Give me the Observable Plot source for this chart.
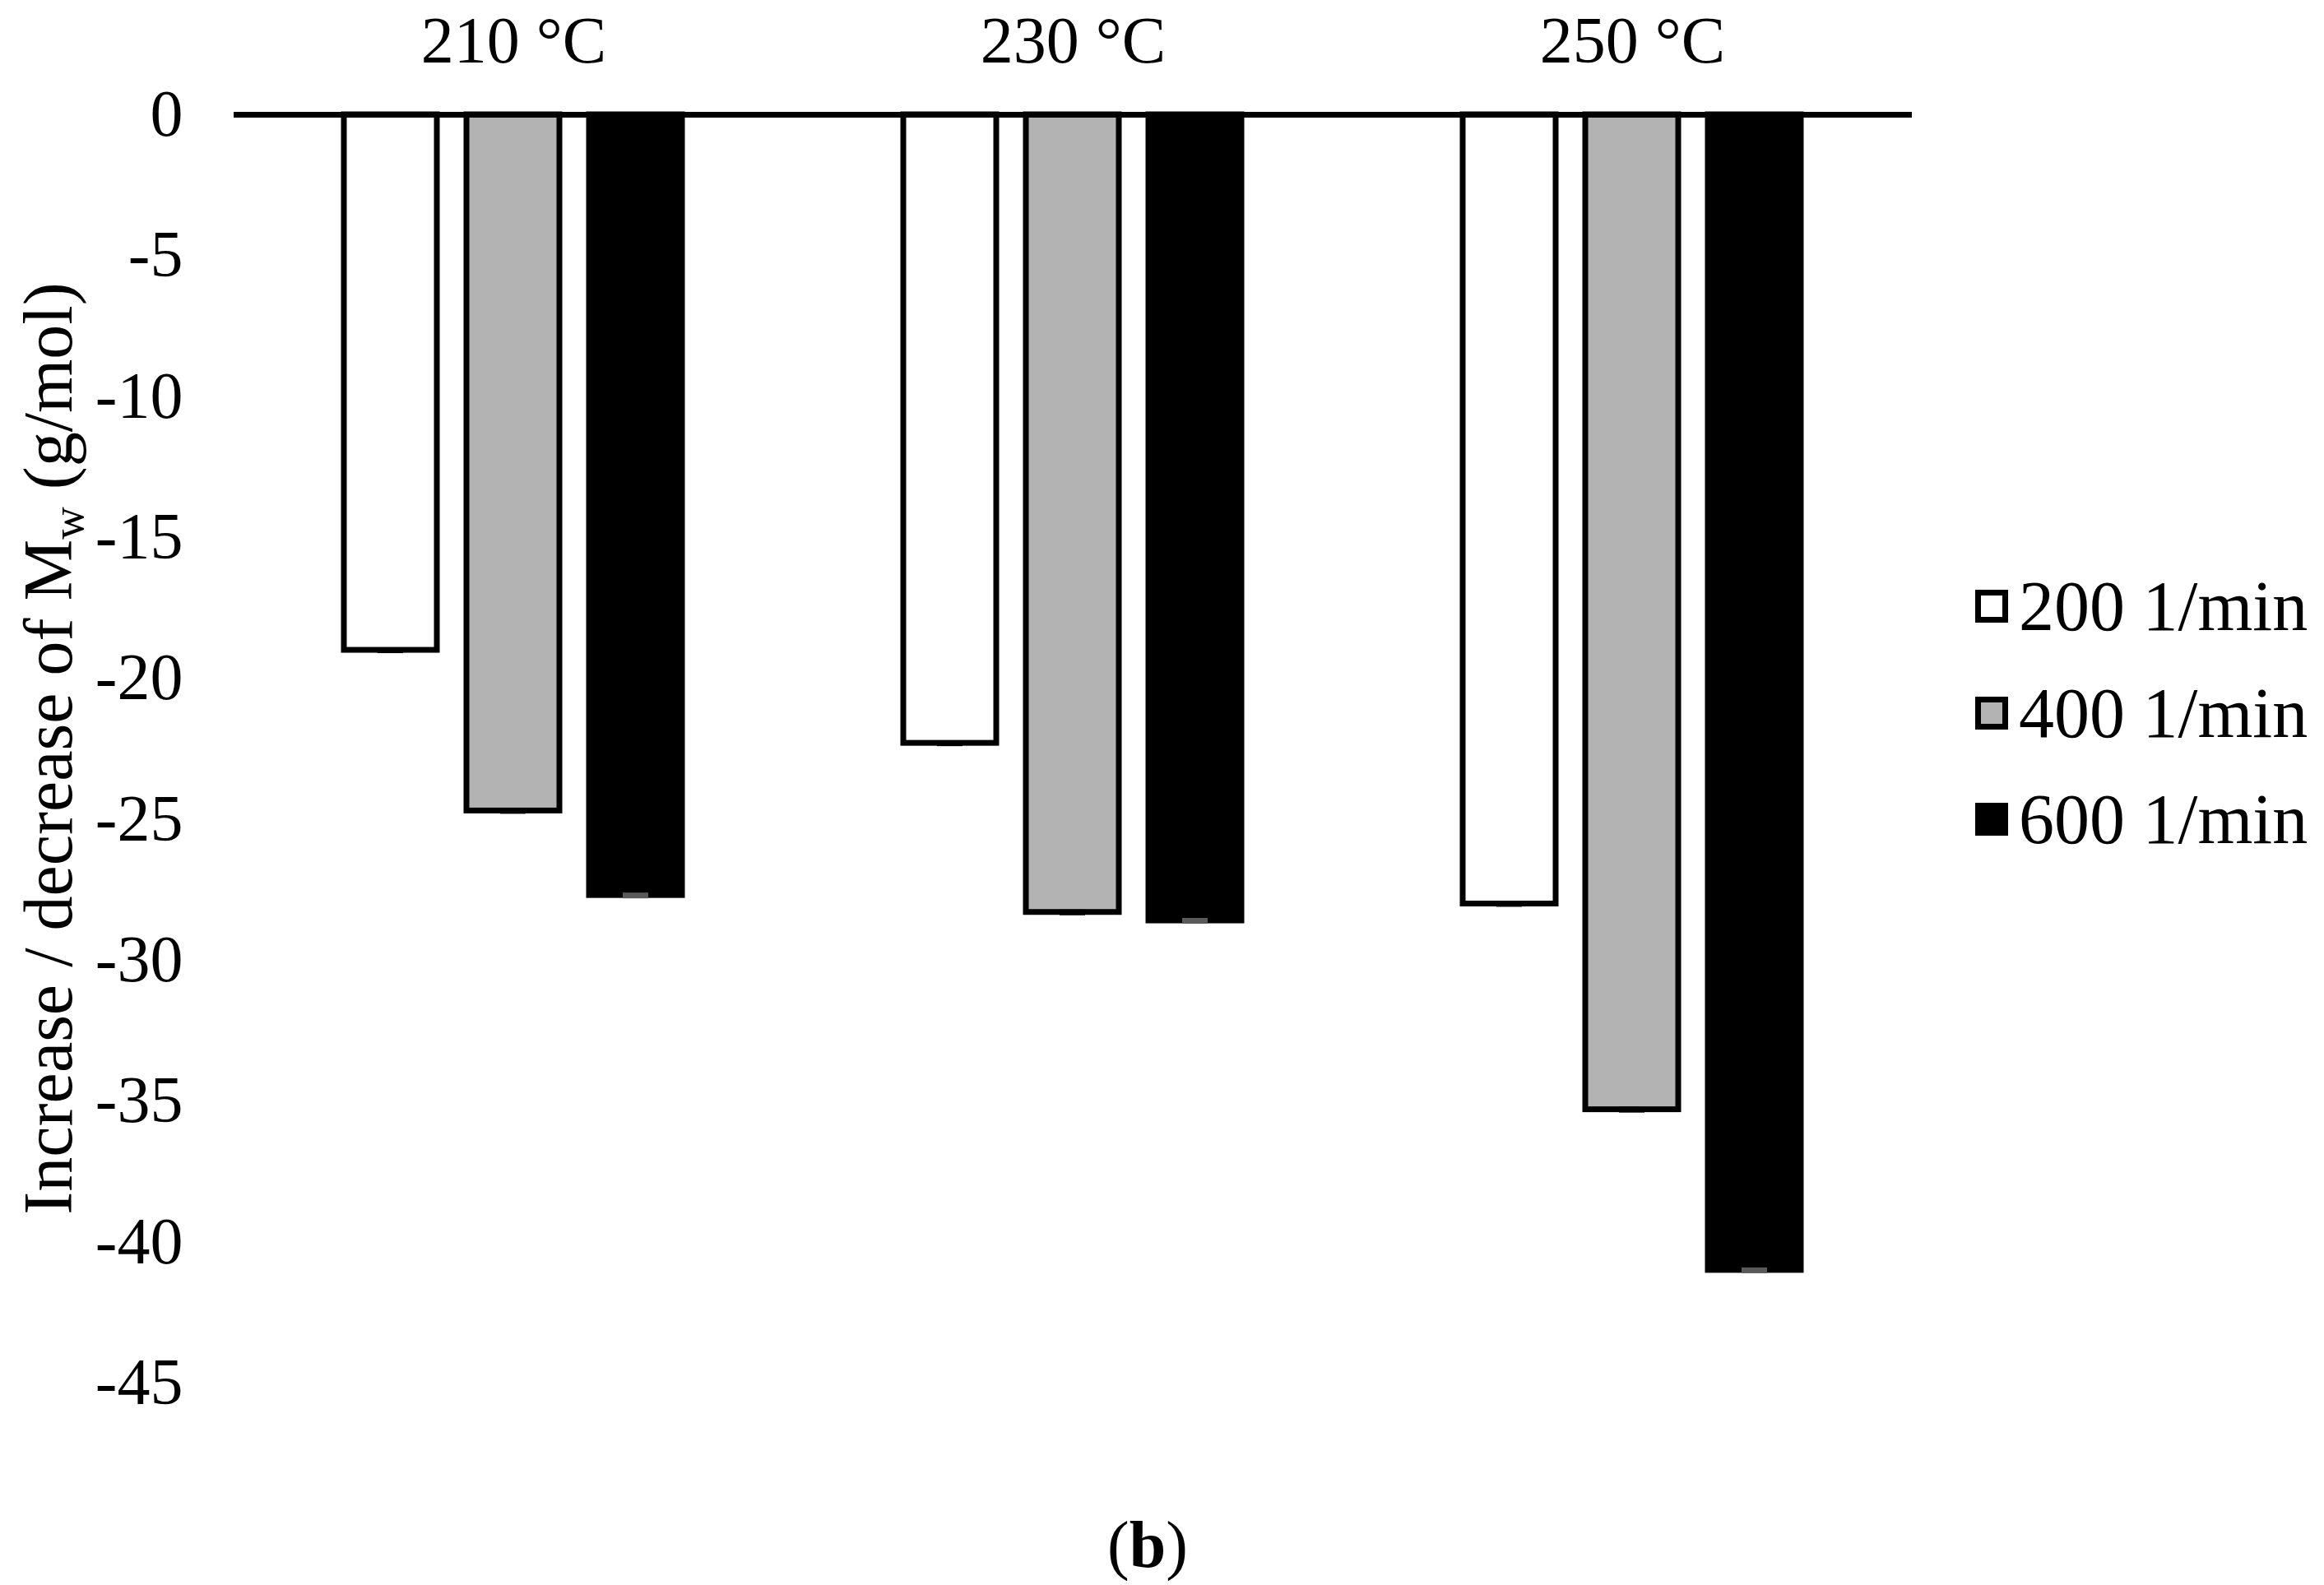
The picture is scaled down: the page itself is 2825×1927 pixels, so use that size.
<!DOCTYPE html>
<html><head><meta charset="utf-8">
<script src="https://cdn.jsdelivr.net/npm/d3@7"></script>
<script src="https://cdn.jsdelivr.net/npm/@observablehq/plot@0.6"></script>
<style>
html,body{margin:0;padding:0;background:#fff;}
#wrap{position:relative;width:2825px;height:1927px;font-family:"Liberation Serif","Times New Roman",serif;color:#000;background:#fff;overflow:hidden;}
#chart{position:absolute;left:0;top:0;}
#ylab{position:absolute;left:59px;top:910px;transform:translate(-50%,-50%) rotate(-90deg);white-space:nowrap;font-size:84px;line-height:1;}
#ylab sub{font-size:0.65em;vertical-align:-0.25em;line-height:0;}
#legend{position:absolute;left:2401px;top:0;}
.row{position:absolute;left:0;display:flex;align-items:center;height:100px;white-space:nowrap;font-size:86px;}
.sw{width:40px;height:40px;box-sizing:border-box;border:7px solid #000;margin-right:13px;}
#cap{position:absolute;left:1395px;top:1878px;transform:translate(-50%,-50%);font-size:80px;white-space:nowrap;line-height:1;}
</style>
</head><body>
<div id="wrap">
  <div id="chart"></div>
  <div id="ylab">Increase / decrease of M<sub>w</sub> (g/mol)</div>
  <div id="legend"></div>
  <div id="cap">(<b>b</b>)</div>
</div>
<script>
const temps = ["210 °C", "230 °C", "250 °C"];
const speeds = ["200 1/min", "400 1/min", "600 1/min"];
const v200 = [-19.0, -22.3, -28.0];
const v400 = [-24.7, -28.3, -35.3];
const v600 = [-27.7, -28.6, -41.0];
const yTicks = [0, -5, -10, -15, -20, -25, -30, -35, -40, -45];
const colors = ["#ffffff", "#b3b3b3", "#000000"];

const series = [v200, v400, v600];
const data = [];
temps.forEach((t, i) => {
  speeds.forEach((s, j) => data.push({temp: t, speed: s, value: series[j][i]}));
});

const chart = Plot.plot({
  width: 2825,
  height: 1780,
  marginLeft: 283,
  marginRight: 501,
  marginTop: 139,
  marginBottom: 99,
  style: {fontFamily: "'Liberation Serif', 'Times New Roman', serif", fontSize: "80px", color: "#000", background: "#fff"},
  fx: {domain: temps, padding: 0, axis: "top", label: null, tickSize: 0, tickPadding: 64},
  x: {domain: speeds, axis: null, paddingInner: 0.24, paddingOuter: 0.887},
  y: {domain: [-45, 0], ticks: yTicks, tickSize: 0, tickPadding: 62, tickFormat: d => String(d), label: null},
  color: {domain: speeds, range: colors},
  marks: [
    Plot.barY(data, {fx: "temp", x: "speed", y1: 0, y2: "value", fill: "speed", stroke: "#000", strokeWidth: 7}),
    Plot.tickY(data, {fx: "temp", x: "speed", y: "value", stroke: d => d.speed === speeds[2] ? "#5a5a5a" : "#000", strokeWidth: 7, insetLeft: 41, insetRight: 41}),
    Plot.ruleY([0], {stroke: "#000", strokeWidth: 7})
  ]
});
document.getElementById("chart").appendChild(chart);

const legendRows = [737, 867, 996];
const leg = document.getElementById("legend");
speeds.forEach((s, i) => {
  const row = document.createElement("div");
  row.className = "row";
  row.style.top = (legendRows[i] - 50) + "px";
  const sw = document.createElement("div");
  sw.className = "sw";
  sw.style.background = colors[i];
  const tx = document.createElement("span");
  tx.textContent = s;
  row.appendChild(sw);
  row.appendChild(tx);
  leg.appendChild(row);
});
</script>
</body></html>
